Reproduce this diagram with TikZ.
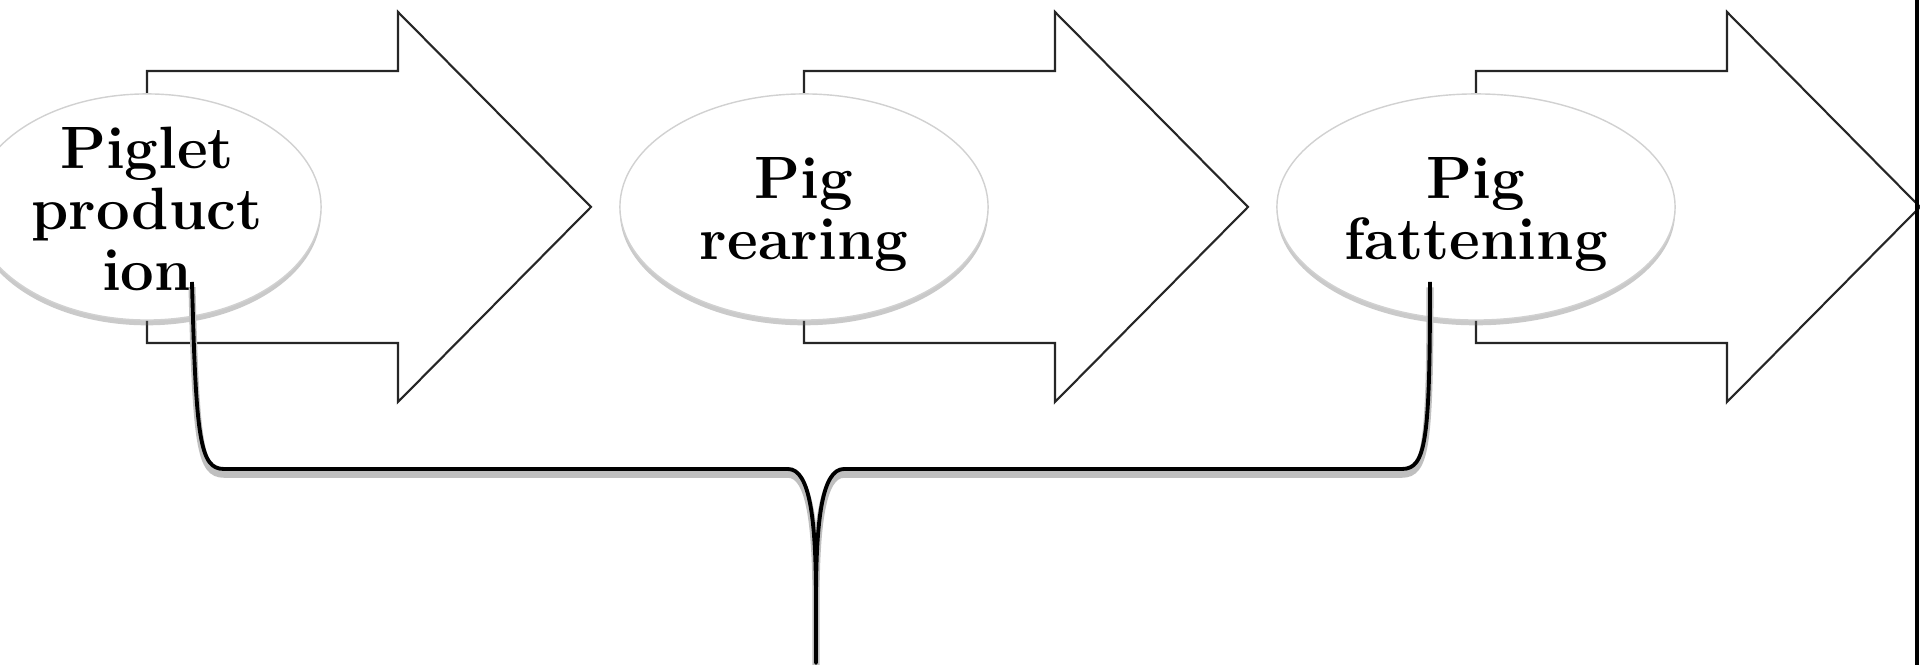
\documentclass[tikz,border=0pt]{standalone}
\usetikzlibrary{shapes.geometric,shadows}
\begin{document}
\begin{tikzpicture}[x=0.01cm,y=-0.01cm,
  block/.style={draw=black!85,line width=0.6pt,fill=white,line join=miter},
  stage/.style={ellipse,draw=black!18,fill=white,inner sep=0pt,minimum height=2.26cm,align=center,
    font=\fontsize{17pt}{17.3pt}\selectfont\bfseries,
    drop shadow={shadow xshift=0pt,shadow yshift=-1.5pt,opacity=0.35,fill=black!60}},
  brace/.style={line width=1.1pt,line join=round,
    preaction={draw=black!25,line width=2pt,transform canvas={yshift=-1.5pt}}}]
\useasboundingbox (0,0) rectangle (1920,665);
\foreach \x in {147,804,1476}
  \draw[block] (\x,71) -- (\x+251,71) -- (\x+251,12) -- (\x+444,207) -- (\x+251,402) -- (\x+251,343) -- (\x,343) -- cycle;
\node[stage,minimum width=3.48cm,inner ysep=-8pt] (piglet) at (147,207) {\rule{0pt}{13pt}Piglet\\product\\ion};
\node[stage,minimum width=3.68cm] (rearing) at (804,207) {\rule{0pt}{16pt}Pig\\rearing};
\node[stage,minimum width=3.98cm] (fattening) at (1476,207) {\rule{0pt}{16pt}Pig\\fattening};
\coordinate (tip) at (816,663);
\draw[brace] ([shift={(45,75)}]piglet.center) .. controls (196,440) and (200,469) .. (224,469) -- (788,469)
  .. controls (810,469) and (816,520) .. (816,600) -- (tip) -- (816,600)
  .. controls (816,520) and (822,469) .. (844,469) -- (1402,469)
  .. controls (1426,469) and (1430,440) .. ([shift={(-46,75)}]fattening.center);
\draw[line width=1pt] (1917,0) -- (1917,665);
\end{tikzpicture}
\end{document}
